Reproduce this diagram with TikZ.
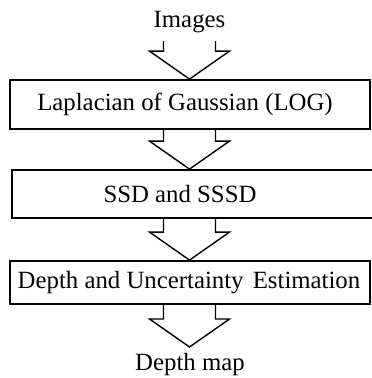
\documentclass[tikz,border=0pt]{standalone}
\usepackage{fontspec}
\setmainfont{Liberation Serif}
\usetikzlibrary{calc}
\begin{document}
\begin{tikzpicture}[x=1pt,y=1pt,
  stagebox/.style={draw, line width=1.8pt, rectangle, inner sep=0pt},
  stagetext/.style={font=\fontsize{24.8}{28}\selectfont, inner sep=0pt},
  hollow/.style={draw, line width=1.4pt, line join=miter}]
\useasboundingbox (0,0) rectangle (372,-378);

% hollow block arrow: open shaft from #1 down to the tip at #2
\newcommand\flowarrow[2]{%
  \draw[hollow] let \p1=(#1), \p2=(#2) in
    (\x2-26pt,\y1) -- (\x2-26pt,\y2+28pt) -- (\x2-40pt,\y2+28pt) -- (\x2,\y2)
    -- (\x2+40pt,\y2+28pt) -- (\x2+26pt,\y2+28pt) -- (\x2+26pt,\y1);}

% processing stages
\node[stagebox, minimum width=360pt, minimum height=49pt] (b1) at (190,-104.5) {};
\node[stagebox, minimum width=362pt, minimum height=48pt] (b2) at (193,-194) {};
\node[stagebox, minimum width=360pt, minimum height=43pt] (b3) at (190,-282.5) {};

\node[stagetext] (t1) at (185,-104.5) {Laplacian of Gaussian (LOG)};
\node[stagetext] (t2) at (180,-194) {SSD and SSSD};
\node[stagetext] (t3) at (189,-282.5) {Depth and Uncertainty\hspace{3pt} Estimation};

% input and output labels
\node[stagetext, anchor=base] (img) at (189.5,-27) {Images};
\node[stagetext, anchor=base] (dm) at (190,-370) {Depth map};

\coordinate (s1) at (189.5,-41);
\coordinate (e4) at (189.5,-347);

\flowarrow{s1}{s1 |- b1.north}
\flowarrow{s1 |- b1.south}{s1 |- b2.north}
\flowarrow{s1 |- b2.south}{s1 |- b3.north}
\flowarrow{s1 |- b3.south}{e4}
\end{tikzpicture}
\end{document}
